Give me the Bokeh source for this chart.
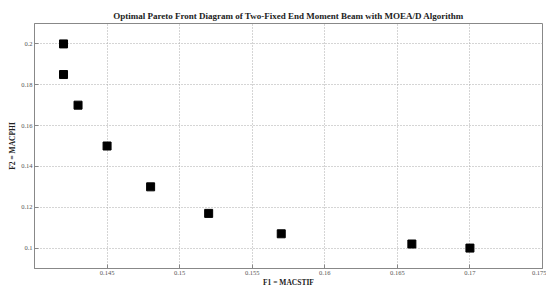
from bokeh.plotting import figure
from bokeh.models import FixedTicker, Range1d
from bokeh.embed import file_html
from bokeh.resources import INLINE

f1 = [0.142, 0.142, 0.143, 0.145, 0.148, 0.152, 0.157, 0.166, 0.170]
f2 = [0.200, 0.185, 0.170, 0.150, 0.130, 0.117, 0.107, 0.102, 0.100]

x_ticks = [0.145, 0.15, 0.155, 0.16, 0.165, 0.17, 0.175]
x_tick_labels = ["0.145", "0.15", "0.155", "0.16", "0.165", "0.17", "0.175"]
y_ticks = [0.1, 0.12, 0.14, 0.16, 0.18, 0.2]
y_tick_labels = ["0.1", "0.12", "0.14", "0.16", "0.18", "0.2"]

SERIF = "Liberation Serif"

p = figure(frame_width=508, frame_height=245, output_backend="svg", toolbar_location=None,
           x_range=Range1d(0.14, 0.175), y_range=Range1d(0.09, 0.21),
           title="Optimal Pareto Front Diagram of Two-Fixed End Moment Beam with MOEA/D Algorithm",
           min_border_left=34, min_border_right=4, min_border_top=23, min_border_bottom=0)

p.title.align = "center"
p.title.text_font = SERIF
p.title.text_font_style = "bold"
p.title.text_font_size = "9px"
p.title.text_color = "#222222"
p.title.offset = 0
p.title.standoff = 5

p.outline_line_color = "#888888"
p.outline_line_width = 1

for ax in (p.xaxis[0], p.yaxis[0]):
    ax.axis_line_color = "#888888"
    ax.major_tick_in = 4
    ax.major_tick_out = 0
    ax.major_tick_line_color = "#888888"
    ax.minor_tick_line_color = None
    ax.major_label_text_font = SERIF
    ax.major_label_text_font_size = "6.5px"
    ax.major_label_text_color = "#555555"
    ax.axis_label_text_font = SERIF
    ax.axis_label_text_font_style = "bold"
    ax.axis_label_text_font_size = "7.5px"
    ax.axis_label_text_color = "#222222"
    ax.major_label_standoff = 2
    ax.axis_label_standoff = 0

p.xaxis.ticker = FixedTicker(ticks=x_ticks)
p.xaxis.major_label_overrides = dict(zip(x_ticks, x_tick_labels))
p.yaxis.ticker = FixedTicker(ticks=y_ticks)
p.yaxis.major_label_overrides = dict(zip(y_ticks, y_tick_labels))
p.xaxis.axis_label = "F1 = MACSTIF"
p.yaxis.axis_label = "F2 = MACPHI"
p.yaxis.axis_label_standoff = 1

p.grid.grid_line_color = "#aaaaaa"
p.grid.grid_line_dash = "1 2"
p.grid.grid_line_width = 1

p.scatter(f1, f2, marker="square", size=8, fill_color="black", line_color="black")

open("out.html", "w").write(file_html(p, INLINE))
